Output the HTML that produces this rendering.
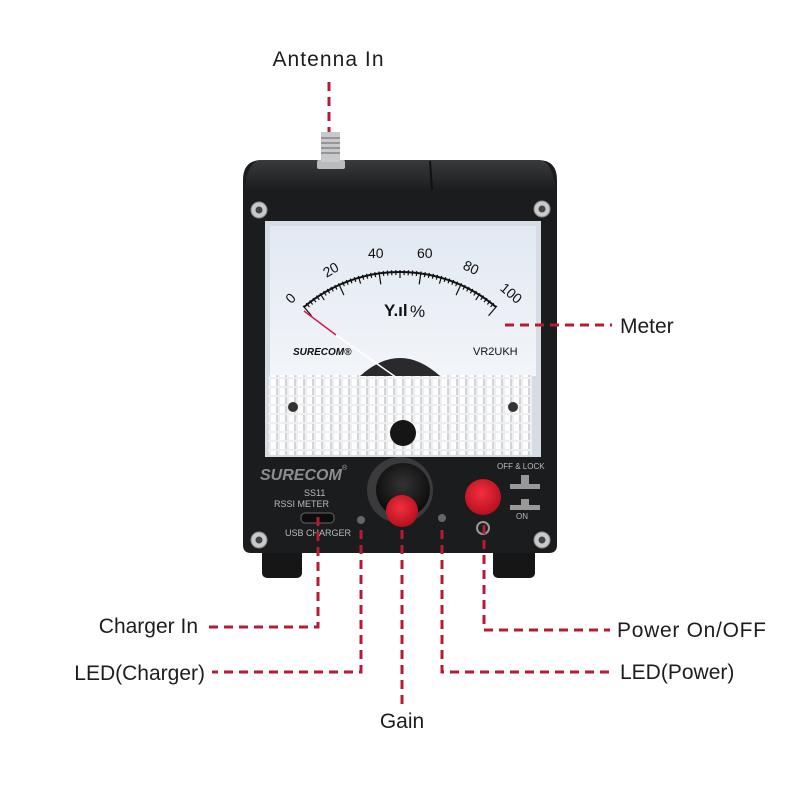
<!DOCTYPE html>
<html><head><meta charset="utf-8"><style>
html,body{margin:0;padding:0;background:#fff}
svg{display:block}
text{font-family:"Liberation Sans",sans-serif}
</style></head><body>
<svg width="800" height="800" viewBox="0 0 800 800" xmlns="http://www.w3.org/2000/svg">
<defs>
<linearGradient id="top" x1="0" y1="0" x2="0" y2="1"><stop offset="0" stop-color="#3a3b3d"/><stop offset="1" stop-color="#1c1d1f"/></linearGradient>
<linearGradient id="face" x1="0" y1="0" x2="0" y2="1"><stop offset="0" stop-color="#e2e9f2"/><stop offset="1" stop-color="#f2f5f9"/></linearGradient>
<pattern id="grid" width="9" height="9" patternUnits="userSpaceOnUse"><rect width="9" height="9" fill="#eceef0"/><rect x="1" y="1" width="7" height="7" fill="#fdfdfd"/><rect x="6" y="1" width="2" height="7" fill="#d2d4d7"/></pattern>
<radialGradient id="knob" cx="0.5" cy="0.4" r="0.6"><stop offset="0" stop-color="#333"/><stop offset="1" stop-color="#0a0a0a"/></radialGradient>
<radialGradient id="red" cx="0.45" cy="0.4" r="0.6"><stop offset="0" stop-color="#f03040"/><stop offset="1" stop-color="#b8101c"/></radialGradient>
</defs>
<rect x="262" y="545" width="40" height="33" rx="5" fill="#161616"/>
<rect x="493" y="545" width="42" height="33" rx="5" fill="#161616"/>
<path d="M262 160 H538 Q557 160 557 180 V545 Q557 553 549 553 H251 Q243 553 243 545 V180 Q243 160 262 160 Z" fill="#1b1c1e"/>
<path d="M262 160 H538 Q553 160 555 190 H245 Q247 160 262 160 Z" fill="url(#top)"/>
<line x1="430" y1="161" x2="432" y2="190" stroke="#111" stroke-width="2"/>
<rect x="317" y="160" width="28" height="9" rx="2" fill="#b9bbbd"/>
<rect x="321" y="132" width="19" height="30" fill="#c8c9cb"/>
<g stroke="#777" stroke-width="1.2"><line x1="321" y1="138" x2="340" y2="138"/><line x1="321" y1="143" x2="340" y2="143"/><line x1="321" y1="148" x2="340" y2="148"/><line x1="321" y1="153" x2="340" y2="153"/></g>
<g fill="#c9cacc" stroke="#888" stroke-width="1">
<circle cx="259" cy="210" r="8"/><circle cx="542" cy="209" r="8"/><circle cx="259" cy="540" r="8"/><circle cx="542" cy="540" r="8"/></g>
<g fill="#444"><circle cx="259" cy="210" r="3.5"/><circle cx="542" cy="209" r="3.5"/><circle cx="259" cy="540" r="3.5"/><circle cx="542" cy="540" r="3.5"/></g>
<rect x="265" y="221" width="276" height="236" fill="#d6dce4"/>
<rect x="270" y="226" width="266" height="150" fill="url(#face)"/>
<rect x="268" y="375" width="264" height="80" fill="url(#grid)"/>
<path d="M360 376 Q400 340 440 376 Z" fill="#2a2a2c"/>
<circle cx="403" cy="433" r="13" fill="#151515"/>
<circle cx="293" cy="407" r="5" fill="#333"/><circle cx="513" cy="407" r="5" fill="#333"/>
<path d="M304 307 A149 149 0 0 1 496 307" fill="none" stroke="#111" stroke-width="2"/>
<g stroke="#111" stroke-width="1.2" id="ticks"></g>
<g font-size="14" fill="#111">
<text x="287" y="302" transform="rotate(-45 292 298)">0</text>
<text x="323" y="275" transform="rotate(-30 330 270)">20</text>
<text x="368" y="258">40</text>
<text x="417" y="258">60</text>
<text x="463" y="272" transform="rotate(25 470 268)">80</text>
<text x="500" y="297" transform="rotate(40 510 292)">100</text>
<text x="384" y="316" font-size="17" font-weight="bold">Y.ıl</text>
<text x="410" y="317" font-size="17">%</text>
<text x="293" y="355" font-size="10" font-style="italic" font-weight="bold">SURECOM®</text>
<text x="473" y="355" font-size="11">VR2UKH</text>
</g>
<line x1="304" y1="311" x2="336" y2="335" stroke="#d8184c" stroke-width="1.5"/>
<line x1="336" y1="335" x2="400" y2="380" stroke="#fff" stroke-width="1.5"/>
<text x="260" y="480" font-size="16" font-weight="bold" font-style="italic" fill="#8c8e92">SURECOM</text>
<text x="342" y="470" font-size="7" fill="#aaa">®</text>
<text x="304" y="496" font-size="9" fill="#bbb">SS11</text>
<text x="274" y="507" font-size="9" fill="#bbb">RSSI  METER</text>
<rect x="301" y="513" width="33" height="10" rx="4" fill="#0d0d0d" stroke="#666"/>
<text x="285" y="536" font-size="9" fill="#bbb">USB CHARGER</text>
<circle cx="400" cy="490" r="33" fill="#3a3a3c"/>
<circle cx="403" cy="490" r="27" fill="url(#knob)"/>
<circle cx="402" cy="511" r="16" fill="url(#red)"/>
<circle cx="483" cy="497" r="18" fill="url(#red)"/>
<circle cx="361" cy="520" r="4" fill="#666"/><circle cx="442" cy="518" r="4" fill="#666"/>
<circle cx="483" cy="528" r="6" fill="none" stroke="#999" stroke-width="2"/>
<text x="497" y="469" font-size="8" fill="#bbb">OFF &amp; LOCK</text>
<rect x="510" y="484" width="30" height="5" fill="#999"/><rect x="521" y="475" width="8" height="10" fill="#999"/>
<rect x="510" y="505" width="30" height="5" fill="#999"/><rect x="521" y="499" width="8" height="7" fill="#999"/>
<text x="516" y="519" font-size="8" fill="#bbb">ON</text>
<g stroke="#b81a34" stroke-width="3" fill="none" stroke-dasharray="9 6">
<path d="M329 82 V132"/>
<path d="M505 325 H612"/>
<path d="M318 517 V627 H207"/>
<path d="M361 530 V672 H212"/>
<path d="M402 530 V706"/>
<path d="M442 530 V672 H612"/>
<path d="M484 525 V630 H610"/>
</g>
<g font-size="21" fill="#1d1d1d">
<text x="328" y="66" text-anchor="middle" textLength="111">Antenna In</text>
<text x="620" y="333">Meter</text>
<text x="198" y="633" text-anchor="end">Charger In</text>
<text x="205" y="680" text-anchor="end">LED(Charger)</text>
<text x="402" y="728" text-anchor="middle">Gain</text>
<text x="617" y="637" textLength="149">Power On/OFF</text>
<text x="620" y="679">LED(Power)</text>
</g>
<script>
var g=document.getElementById('ticks');
for(var i=0;i<=50;i++){var a=(-40.6+81.2*i/50)*Math.PI/180;var r1=149,r2=(i%10==0)?136:(i%5==0?141:144);
var cx=400,cy=419;var l=document.createElementNS('http://www.w3.org/2000/svg','line');
l.setAttribute('x1',cx+r1*Math.sin(a));l.setAttribute('y1',cy-r1*Math.cos(a));
l.setAttribute('x2',cx+r2*Math.sin(a));l.setAttribute('y2',cy-r2*Math.cos(a));g.appendChild(l);}
</script>
</svg>
</body></html>
